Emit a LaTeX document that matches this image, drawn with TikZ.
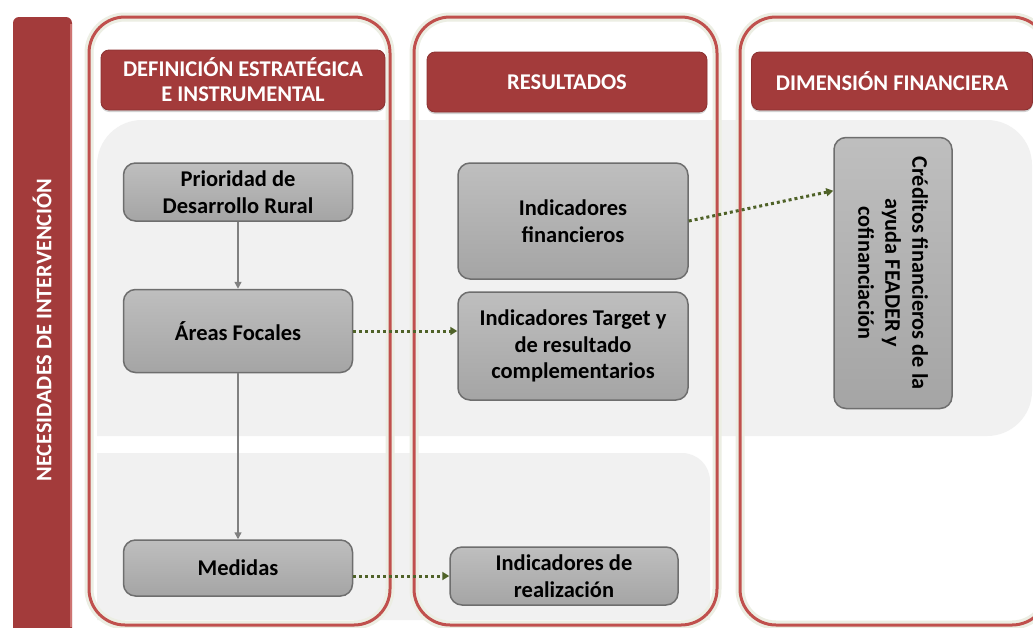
\documentclass[tikz,border=0pt]{standalone}
\usepackage{fontspec}
\setmainfont{Carlito}
\usetikzlibrary{arrows.meta,shadows,calc}
\definecolor{hdrred}{HTML}{A33B3B}
\definecolor{colred}{HTML}{C0504D}
\definecolor{boxgray}{HTML}{B3B3B3}
\definecolor{boxedge}{HTML}{6E6E6E}
\definecolor{bandgray}{HTML}{F1F1F1}
\definecolor{dotgreen}{HTML}{4F6228}
\definecolor{halo}{HTML}{ECEEE3}
\definecolor{arrowgray}{HTML}{808080}
\begin{document}
\begin{tikzpicture}[x=1pt,y=-1pt,
  colframe/.style={draw=colred, line width=3pt, rounded corners=36pt},
  colhalo/.style={draw=halo, line width=9pt, rounded corners=36pt},
  hdr/.style={rectangle, rounded corners=8pt, fill=hdrred, draw=hdrred!85!black, line width=0.8pt,
    text=white, font=\fontsize{22.5}{25}\selectfont\bfseries, align=center, inner sep=0pt,
    drop shadow={shadow xshift=0pt, shadow yshift=-2pt, opacity=0.35}},
  gbox/.style={rectangle, rounded corners=12pt, top color=boxgray!85!white, bottom color=boxgray!92!black,
    draw=boxedge, line width=1.5pt,
    font=\fontsize{22.5}{26.5}\selectfont\bfseries, align=center, inner sep=0pt},
  grayarrow/.style={draw=arrowgray, line width=1.5pt, -{Triangle[length=7pt,width=7pt]}},
  greenarrow/.style={draw=dotgreen, line width=3pt, dash pattern=on 3pt off 3pt,
    -{Triangle[length=7pt,width=8pt]}}
]
\useasboundingbox (0,0) rectangle (1033,627);
\fill[white] (0,0) rectangle (1033,627);

% light gray bands
\fill[bandgray] (97,436) -- (97,165) arc[start angle=180, end angle=270, radius=45]
  -- (987,120) arc[start angle=270, end angle=360, radius=45]
  -- (1032,391) arc[start angle=0, end angle=90, radius=45] -- cycle;
\fill[bandgray] (97,620) -- (97,453) -- (682,453) arc[start angle=-90, end angle=0, radius=28]
  -- (710,620) -- cycle;

% left bar
\fill[hdrred, rounded corners=6pt] (13,17) rectangle (72,645);
\draw[colred!80!white, line width=2pt] (70.5,24) -- (70.5,627);
\node[rotate=90, text=white, font=\fontsize{22.3}{25}\selectfont\bfseries] (nec) at (42,330) {NECESIDADES DE INTERVENCIÓN};

% column frames
\draw[colhalo] (89,17) rectangle (390,625);
\draw[colhalo] (414,17) rectangle (717,625);
\draw[colhalo] (740,17) rectangle (1048,625);
\draw[colframe] (89,17) rectangle (390,625);
\draw[colframe] (414,17) rectangle (717,625);
\draw[colframe] (740,17) rectangle (1048,625);

% headers
\node[hdr, minimum width=284pt, minimum height=60pt] (h1) at (243,80) {DEFINICIÓN ESTRATÉGICA\\E INSTRUMENTAL};
\node[hdr, minimum width=280pt, minimum height=60pt] (h2) at (567,82) {RESULTADOS};
\node[hdr, minimum width=281pt, minimum height=58pt] (h3) at (892,81) {DIMENSIÓN FINANCIERA};

% boxes
\node[gbox, minimum width=229pt, minimum height=58pt] (prio) at (238,192) {Prioridad de\\Desarrollo Rural};
\node[gbox, minimum width=229pt, minimum height=83pt] (areas) at (238,331) {Áreas Focales};
\node[gbox, minimum width=229pt, minimum height=56pt] (medidas) at (238,568) {Medidas};
\node[gbox, minimum width=230pt, minimum height=116pt] (indfin) at (573,221) {Indicadores\\financieros};
\node[gbox, minimum width=230pt, minimum height=108pt] (indtarget) at (573,346) {Indicadores Target y\\de resultado\\complementarios};
\node[gbox, minimum width=228pt, minimum height=58pt] (indreal) at (564,576) {Indicadores de\\realización};
\node[gbox, minimum width=118pt, minimum height=271pt] (creditos) at (893,273) {};
\node[rotate=-90, align=center, font=\fontsize{22.3}{27}\selectfont\bfseries] (creditostext) at (creditos.center) {Créditos financieros de la\\ayuda FEADER y\\cofinanciación};

% connectors
\draw[grayarrow] (prio.south) -- (areas.north);
\draw[grayarrow] (areas.south) -- (medidas.north);
\draw[greenarrow] (areas.east) -- (areas.east -| indtarget.west);
\draw[greenarrow] (indreal.west -| medidas.east) -- (indreal.west);
\draw[greenarrow] (indfin.east) -- (creditos.126);
\end{tikzpicture}
\end{document}
